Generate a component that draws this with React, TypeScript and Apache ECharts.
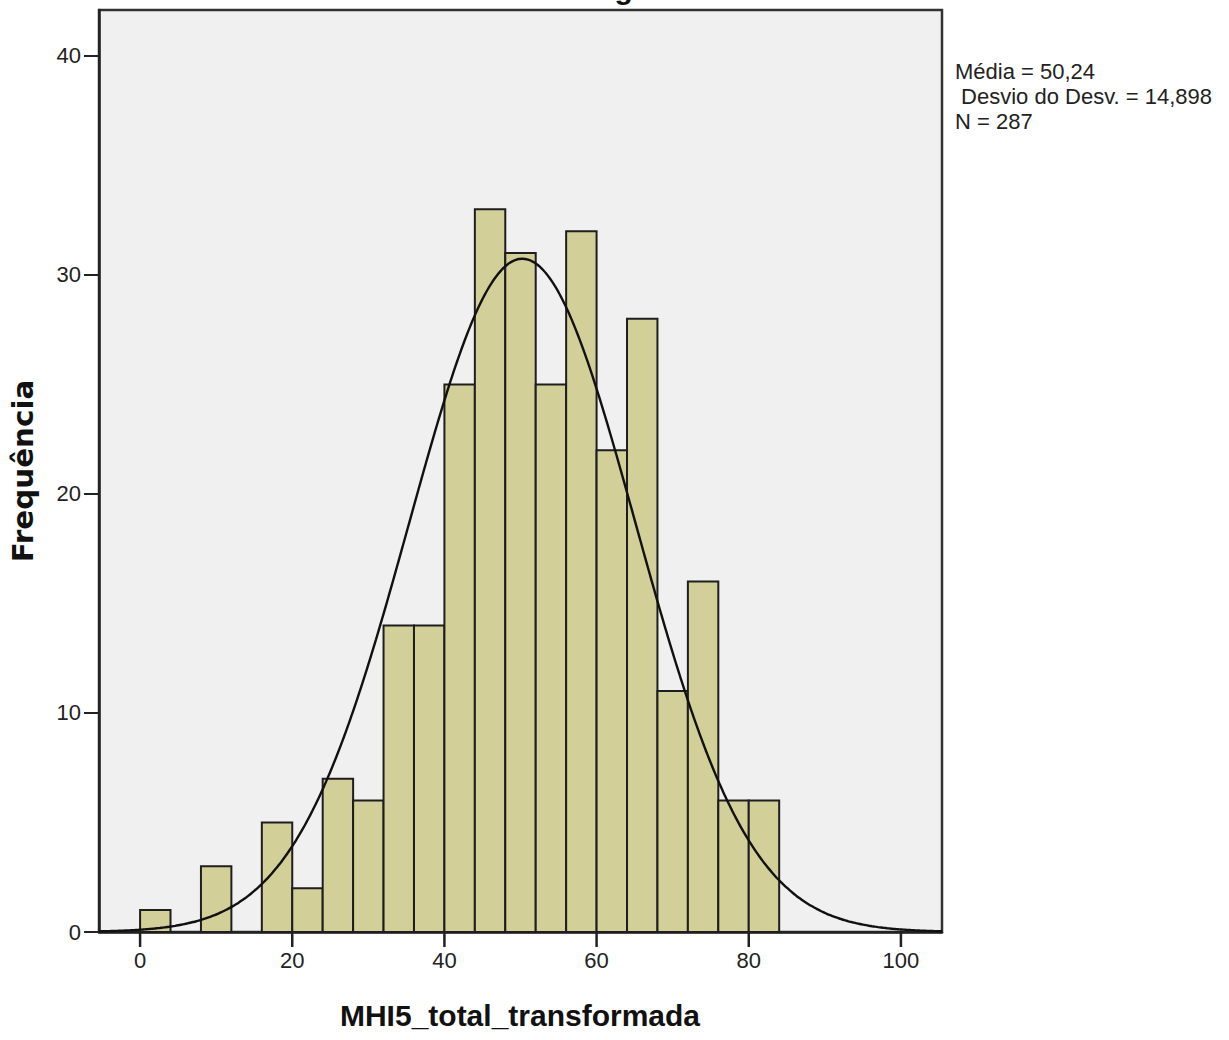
import React, { useEffect, useRef } from "react";
import * as echarts from "echarts";

// Histogram bins (lower edge) and frequencies
const binStarts = [0, 4, 8, 12, 16, 20, 24, 28, 32, 36, 40, 44, 48, 52, 56, 60, 64, 68, 72, 76, 80];
const counts = [1, 0, 3, 0, 5, 2, 7, 6, 14, 14, 25, 33, 31, 25, 32, 22, 28, 11, 16, 6, 6];
const BIN_WIDTH = 4;

// Summary statistics shown on the chart (the fitted normal curve uses them)
const MEAN = 50.24;
const SD = 14.898;
const N = 287;

const xTicks = [0, 20, 40, 60, 80, 100];
const statsLines = ["Média = 50,24", " Desvio do Desv. = 14,898", "N = 287"];
const TITLE = "Histograma";
const X_NAME = "MHI5_total_transformada";
const Y_NAME = "Frequência";

const X_MIN = -5.4;
const X_MAX = 105.4;
const Y_MAX = 42.1;

function normalCurve(): number[][] {
  const pts: number[][] = [];
  const k = (N * BIN_WIDTH) / (SD * Math.sqrt(2 * Math.PI));
  for (let x = X_MIN; x <= X_MAX + 1e-9; x += 0.4) {
    const z = (x - MEAN) / SD;
    pts.push([x, k * Math.exp(-0.5 * z * z)]);
  }
  return pts;
}

export default function App() {
  const ref = useRef<HTMLDivElement>(null);
  useEffect(() => {
    document.body.style.margin = "0";
    const chart = echarts.init(ref.current!, null, { renderer: "svg" });
    const barData = binStarts.map((s, i) => [s, s + BIN_WIDTH, counts[i]]);
    chart.setOption({
      animation: false,
      backgroundColor: "#ffffff",
      grid: {
        left: 99,
        top: 10,
        right: 287,
        bottom: 108,
        show: true,
        backgroundColor: "#f0f0f0",
        borderColor: "#333333",
        borderWidth: 2.5,
      },
      xAxis: [
        {
          type: "value",
          min: X_MIN,
          max: X_MAX,
          splitLine: { show: false },
          axisLine: { show: true, onZero: false, lineStyle: { color: "#222", width: 2.5 } },
          axisTick: { show: false },
          axisLabel: {
            customValues: xTicks,
            margin: 17,
            fontSize: 22,
            fontFamily: "Liberation Sans, Arial, sans-serif",
            color: "#222",
          },
        },
      ],
      yAxis: {
        type: "value",
        min: 0,
        max: Y_MAX,
        interval: 10,
        splitLine: { show: false },
        axisLine: { show: true, onZero: false, lineStyle: { color: "#222", width: 2.5 } },
        axisTick: { show: true, inside: false, length: 15, lineStyle: { color: "#222", width: 2 } },
        axisLabel: {
          margin: 18,
          fontSize: 22,
          fontFamily: "Liberation Sans, Arial, sans-serif",
          color: "#222",
          showMaxLabel: false,
          formatter: (v: number) => (v % 10 === 0 ? String(v) : ""),
        },
      },
      series: [
        {
          type: "custom",
          data: barData,
          encode: { x: [0, 1], y: 2 },
          renderItem: (params: any, api: any) => {
            const x0 = api.value(0);
            const x1 = api.value(1);
            const c = api.value(2);
            if (!c) return null;
            const p0 = api.coord([x0, c]);
            const p1 = api.coord([x1, 0]);
            return {
              type: "rect",
              shape: { x: p0[0], y: p0[1], width: p1[0] - p0[0], height: p1[1] - p0[1] },
              style: { fill: "#d3cf98", stroke: "#1e1e1e", lineWidth: 2 },
            };
          },
          z: 2,
        },
        {
          type: "line",
          data: normalCurve(),
          showSymbol: false,
          symbol: "none",
          smooth: true,
          lineStyle: { color: "#111", width: 2.4 },
          z: 3,
        },
        {
          // x-axis tick marks, hanging below the axis line, placed through the axis scale
          type: "line",
          data: xTicks.map((v) => [v, 0]),
          symbol: "rect",
          symbolSize: [2.5, 15],
          symbolOffset: [0, 7.5],
          showSymbol: true,
          showAllSymbol: true,
          clip: false,
          silent: true,
          lineStyle: { opacity: 0, width: 0 },
          itemStyle: { color: "#222", borderWidth: 0 },
          z: 20,
        },
      ],
      graphic: [
        {
          type: "text",
          x: 622,
          y: 3,
          style: {
            text: TITLE,
            font: "bold 30px 'Liberation Sans', Arial, sans-serif",
            fill: "#111",
            align: "center",
            verticalAlign: "bottom",
          },
        },
        {
          type: "text",
          x: 955,
          y: 59,
          style: {
            text: statsLines.join("\n"),
            font: "22px 'Liberation Sans', Arial, sans-serif",
            lineHeight: 25,
            fill: "#222",
            align: "left",
            verticalAlign: "top",
          },
        },
        {
          type: "text",
          x: 520,
          y: 1015,
          style: {
            text: X_NAME,
            font: "bold 30px 'Liberation Sans', Arial, sans-serif",
            fill: "#111",
            align: "center",
            verticalAlign: "middle",
          },
        },
        {
          type: "text",
          x: 23,
          y: 471,
          rotation: Math.PI / 2,
          scaleX: 1.05,
          style: {
            text: Y_NAME,
            font: "bold 28px 'DejaVu Sans', Verdana, sans-serif",
            fill: "#111",
            align: "center",
            verticalAlign: "middle",
          },
        },
      ],
    });
    return () => chart.dispose();
  }, []);
  return <div ref={ref} style={{ width: 1229, height: 1040 }} />;
}
